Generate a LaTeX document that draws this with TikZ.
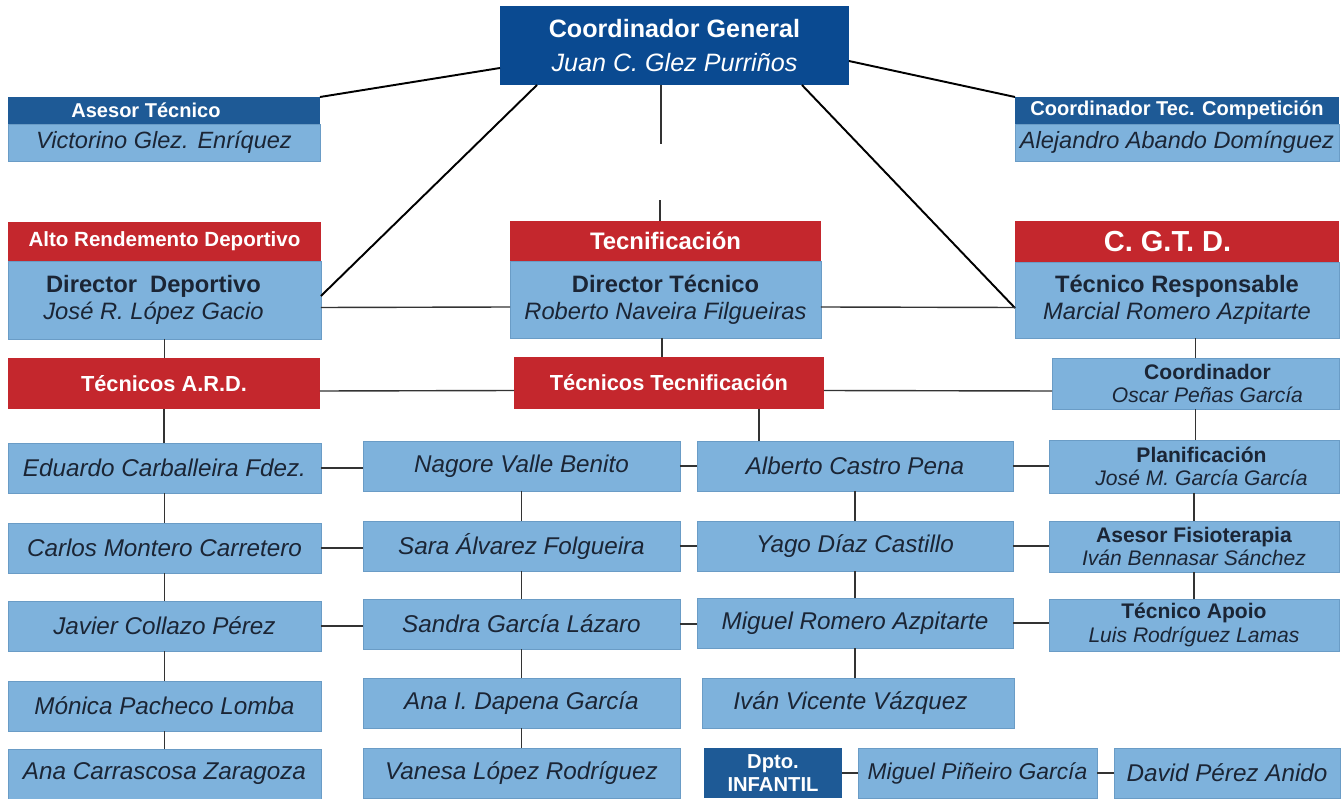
\documentclass[tikz,border=0pt]{standalone}
\usepackage{fontspec}
\setmainfont{Liberation Sans}
\usetikzlibrary{positioning}

\definecolor{cgblue}{HTML}{0A4A91}
\definecolor{headblue}{HTML}{1E5A96}
\definecolor{headred}{HTML}{C4272D}
\definecolor{boxblue}{HTML}{7EB2DC}
\definecolor{boxline}{HTML}{6A9CC6}
\definecolor{txtdark}{HTML}{1B2535}

\newcommand{\fsz}[2]{\fontsize{#1}{#2}\selectfont}

\tikzset{
  pbox/.style={anchor=north west, inner sep=0pt, outer sep=0pt, draw=boxline, line width=0.5pt, fill=boxblue, text=txtdark, align=center},
  namebox/.style={pbox, minimum height=1cm, font=\fsz{13.8}{16}\itshape},
  rolebox/.style={pbox, font=\fsz{12}{13.2}},
  mainrole/.style={pbox, font=\fsz{13.5}{15.2}},
  redhead/.style={pbox, draw=none, fill=headred, text=white, font=\fsz{12.4}{14}\bfseries},
  bluehead/.style={pbox, draw=none, fill=headblue, text=white, font=\fsz{11.4}{13}\bfseries},
  link/.style={draw=black, line width=1.1pt},
  rowlink/.style={draw=black!80, line width=0.8pt},
}

\begin{document}
\begin{tikzpicture}[x=0.02cm, y=-0.02cm]

\useasboundingbox (0,0) rectangle (1341,798);

% top
{
\node[pbox, draw=none, fill=cgblue, text=white, font=\fsz{14.3}{19}, minimum width=6.98cm, minimum height=1.58cm] (cg) at (500,6)
  {\textbf{Coordinador General}\\\textit{Juan C. Glez Purriños}};

\node[bluehead, minimum width=6.24cm, minimum height=0.54cm] (asesorH) at (8,97) {Asesor Técnico\hspace*{0.72cm}};
\node[pbox, font=\fsz{13.4}{15}\itshape, minimum width=6.24cm, minimum height=0.74cm] (asesor) at (8,124) {Victorino Glez. Enríquez};

\node[bluehead, minimum width=6.48cm, minimum height=0.54cm] (comptH) at (1015,97) {Coordinador Tec. Competición};
\node[pbox, font=\fsz{13.4}{15}\itshape, minimum width=6.48cm, minimum height=0.74cm] (compt) at (1015,124) {Alejandro Abando Domínguez};
}

% areas
{
\node[redhead, font=\fsz{11.7}{14}\bfseries, minimum width=6.26cm, minimum height=0.78cm] (ardH) at (8,222) {Alto Rendemento Deportivo};
\node[mainrole, minimum width=6.26cm, minimum height=1.56cm] (dd) at (8,261)
  {\textbf{Director\ \ Deportivo}\hspace*{0.44cm}\\\textit{José R. López Gacio}\hspace*{0.44cm}};

\node[redhead, font=\fsz{13.6}{15}\bfseries, minimum width=6.22cm, minimum height=0.80cm] (tecH) at (510,221) {Tecnificación};
\node[mainrole, minimum width=6.22cm, minimum height=1.54cm] (dt) at (510,261)
  {\textbf{Director Técnico}\\\textit{Roberto Naveira Filgueiras}};

\node[redhead, font=\fsz{16.5}{18}\bfseries, minimum width=6.48cm, minimum height=0.82cm] (cgtdH) at (1015,221) {C. G.T. D.\hspace*{0.38cm}};
\node[mainrole, minimum width=6.48cm, minimum height=1.52cm] (tr) at (1015,262)
  {\textbf{Técnico Responsable}\\\textit{Marcial Romero Azpitarte}};

\node[redhead, minimum width=6.24cm, minimum height=1.02cm] (tard) at (8,358) {Técnicos A.R.D.};
\node[redhead, minimum width=6.20cm, minimum height=1.04cm] (ttec) at (514,357) {Técnicos Tecnificación};
\node[rolebox, minimum width=5.74cm, minimum height=1.02cm] (coord) at (1052,358)
  {\hspace*{0.48cm}\textbf{Coordinador}\\\hspace*{0.48cm}\textit{Oscar Peñas García}};
}

% names
{
\node[namebox, minimum width=6.26cm] (eduardo) at (8,443) {Eduardo Carballeira Fdez.};
\node[namebox, minimum width=6.26cm] (carlos) at (8,523) {Carlos Montero Carretero};
\node[namebox, minimum width=6.26cm] (javier) at (8,601) {Javier Collazo Pérez};
\node[namebox, minimum width=6.26cm] (monica) at (8,681) {Mónica Pacheco Lomba};
\node[namebox, minimum width=6.26cm] (anac) at (8,749) {Ana Carrascosa Zaragoza};

\node[namebox, minimum width=6.34cm] (nagore) at (363,441) {Nagore Valle Benito};
\node[namebox, minimum width=6.34cm] (sara) at (363,521) {Sara Álvarez Folgueira};
\node[namebox, minimum width=6.34cm] (sandra) at (363,599) {Sandra García Lázaro};
\node[namebox, minimum width=6.34cm] (anai) at (363,678) {Ana I. Dapena García};
\node[namebox, minimum width=6.34cm] (vanesa) at (363,748) {Vanesa López Rodríguez};

\node[namebox, minimum width=6.32cm] (alberto) at (697,441) {Alberto Castro Pena};
\node[namebox, minimum width=6.32cm] (yago) at (697,521) {Yago Díaz Castillo};
\node[namebox, minimum width=6.32cm] (miguelr) at (697,598) {Miguel Romero Azpitarte};
\node[namebox, minimum width=6.24cm] (ivanv) at (702,678) {Iván Vicente Vázquez\hspace*{0.3cm}};

\node[rolebox, minimum width=5.80cm, minimum height=1.06cm] (planif) at (1049,440)
  {\hspace*{0.3cm}\textbf{Planificación}\\\hspace*{0.3cm}\textit{José M. García García}};
\node[rolebox, minimum width=5.80cm, minimum height=1.02cm] (fisio) at (1049,521)
  {\textbf{Asesor Fisioterapia}\\\textit{Iván Bennasar Sánchez}};
\node[rolebox, minimum width=5.80cm, minimum height=1.04cm] (apoio) at (1049,599)
  {\textbf{Técnico Apoio}\\\textit{Luis Rodríguez Lamas}};

\node[bluehead, font=\fsz{11.5}{13}\bfseries, minimum width=2.76cm, minimum height=1cm] (infantil) at (704,748) {Dpto.\\INFANTIL};
\node[namebox, font=\fsz{13}{16}\itshape, minimum width=4.78cm] (miguelp) at (858,748) {Miguel Piñeiro García};
\node[namebox, minimum width=4.52cm] (david) at (1114,748) {David Pérez Anido};
}

% lines from the top
\draw[link] ([yshift=-0.45cm]cg.west) -- (asesorH.north east);
\draw[link] ([yshift=-0.31cm]cg.east) -- (comptH.north west);
\draw[link] ([xshift=0.74cm]cg.south west) -- ([yshift=-0.70cm]dd.north east);
\draw[link] ([xshift=-0.94cm]cg.south east) -- ([yshift=-0.92cm]tr.north west);
\draw[rowlink] ([xshift=-0.27cm]cg.south) -- ++(0,59);
\draw[rowlink] ([xshift=-0.11cm]tecH.north) -- ++(0,-21);

% black lines
\draw[rowlink] ([yshift=-0.15cm]dd.east) -- ([yshift=-0.15cm]dt.west);
\draw[rowlink] ([yshift=-0.15cm]dt.east) -- ([yshift=-0.15cm]tr.west);
\draw[rowlink] ([yshift=-0.15cm]tard.east) -- ([yshift=-0.15cm]ttec.west);
\draw[rowlink] ([yshift=-0.15cm]ttec.east) -- ([yshift=-0.15cm]coord.west);

\draw[rowlink] (dd.south) -- (dd.south |- tard.north);
\draw[rowlink] ([xshift=-0.07cm]dt.south) -- ([xshift=-0.07cm]dt.south |- ttec.north);
\draw[rowlink] (coord.north) -- (coord.north |- tr.south);
\draw[rowlink] (coord.south) -- (coord.south |- planif.north);
\draw[rowlink] (tard.south) -- (tard.south |- eduardo.north);
\draw[rowlink] ([xshift=1.8cm]ttec.south) -- ([xshift=1.8cm]ttec.south |- alberto.north);

\foreach \a/\b in {eduardo/carlos, carlos/javier, javier/monica, monica/anac,
                   nagore/sara, sara/sandra, sandra/anai, anai/vanesa,
                   alberto/yago, yago/miguelr, miguelr/ivanv,
                   planif/fisio, fisio/apoio}
  \draw[rowlink] (\a.south) -- (\a.south |- \b.north);

\foreach \a/\b in {eduardo/nagore, carlos/sara, javier/sandra,
                   nagore/alberto, sara/yago, sandra/miguelr,
                   alberto/planif, yago/fisio, miguelr/apoio,
                   infantil/miguelp, miguelp/david}
  \draw[rowlink] (\a.east) -- (\a.east -| \b.west);

\end{tikzpicture}
\end{document}
